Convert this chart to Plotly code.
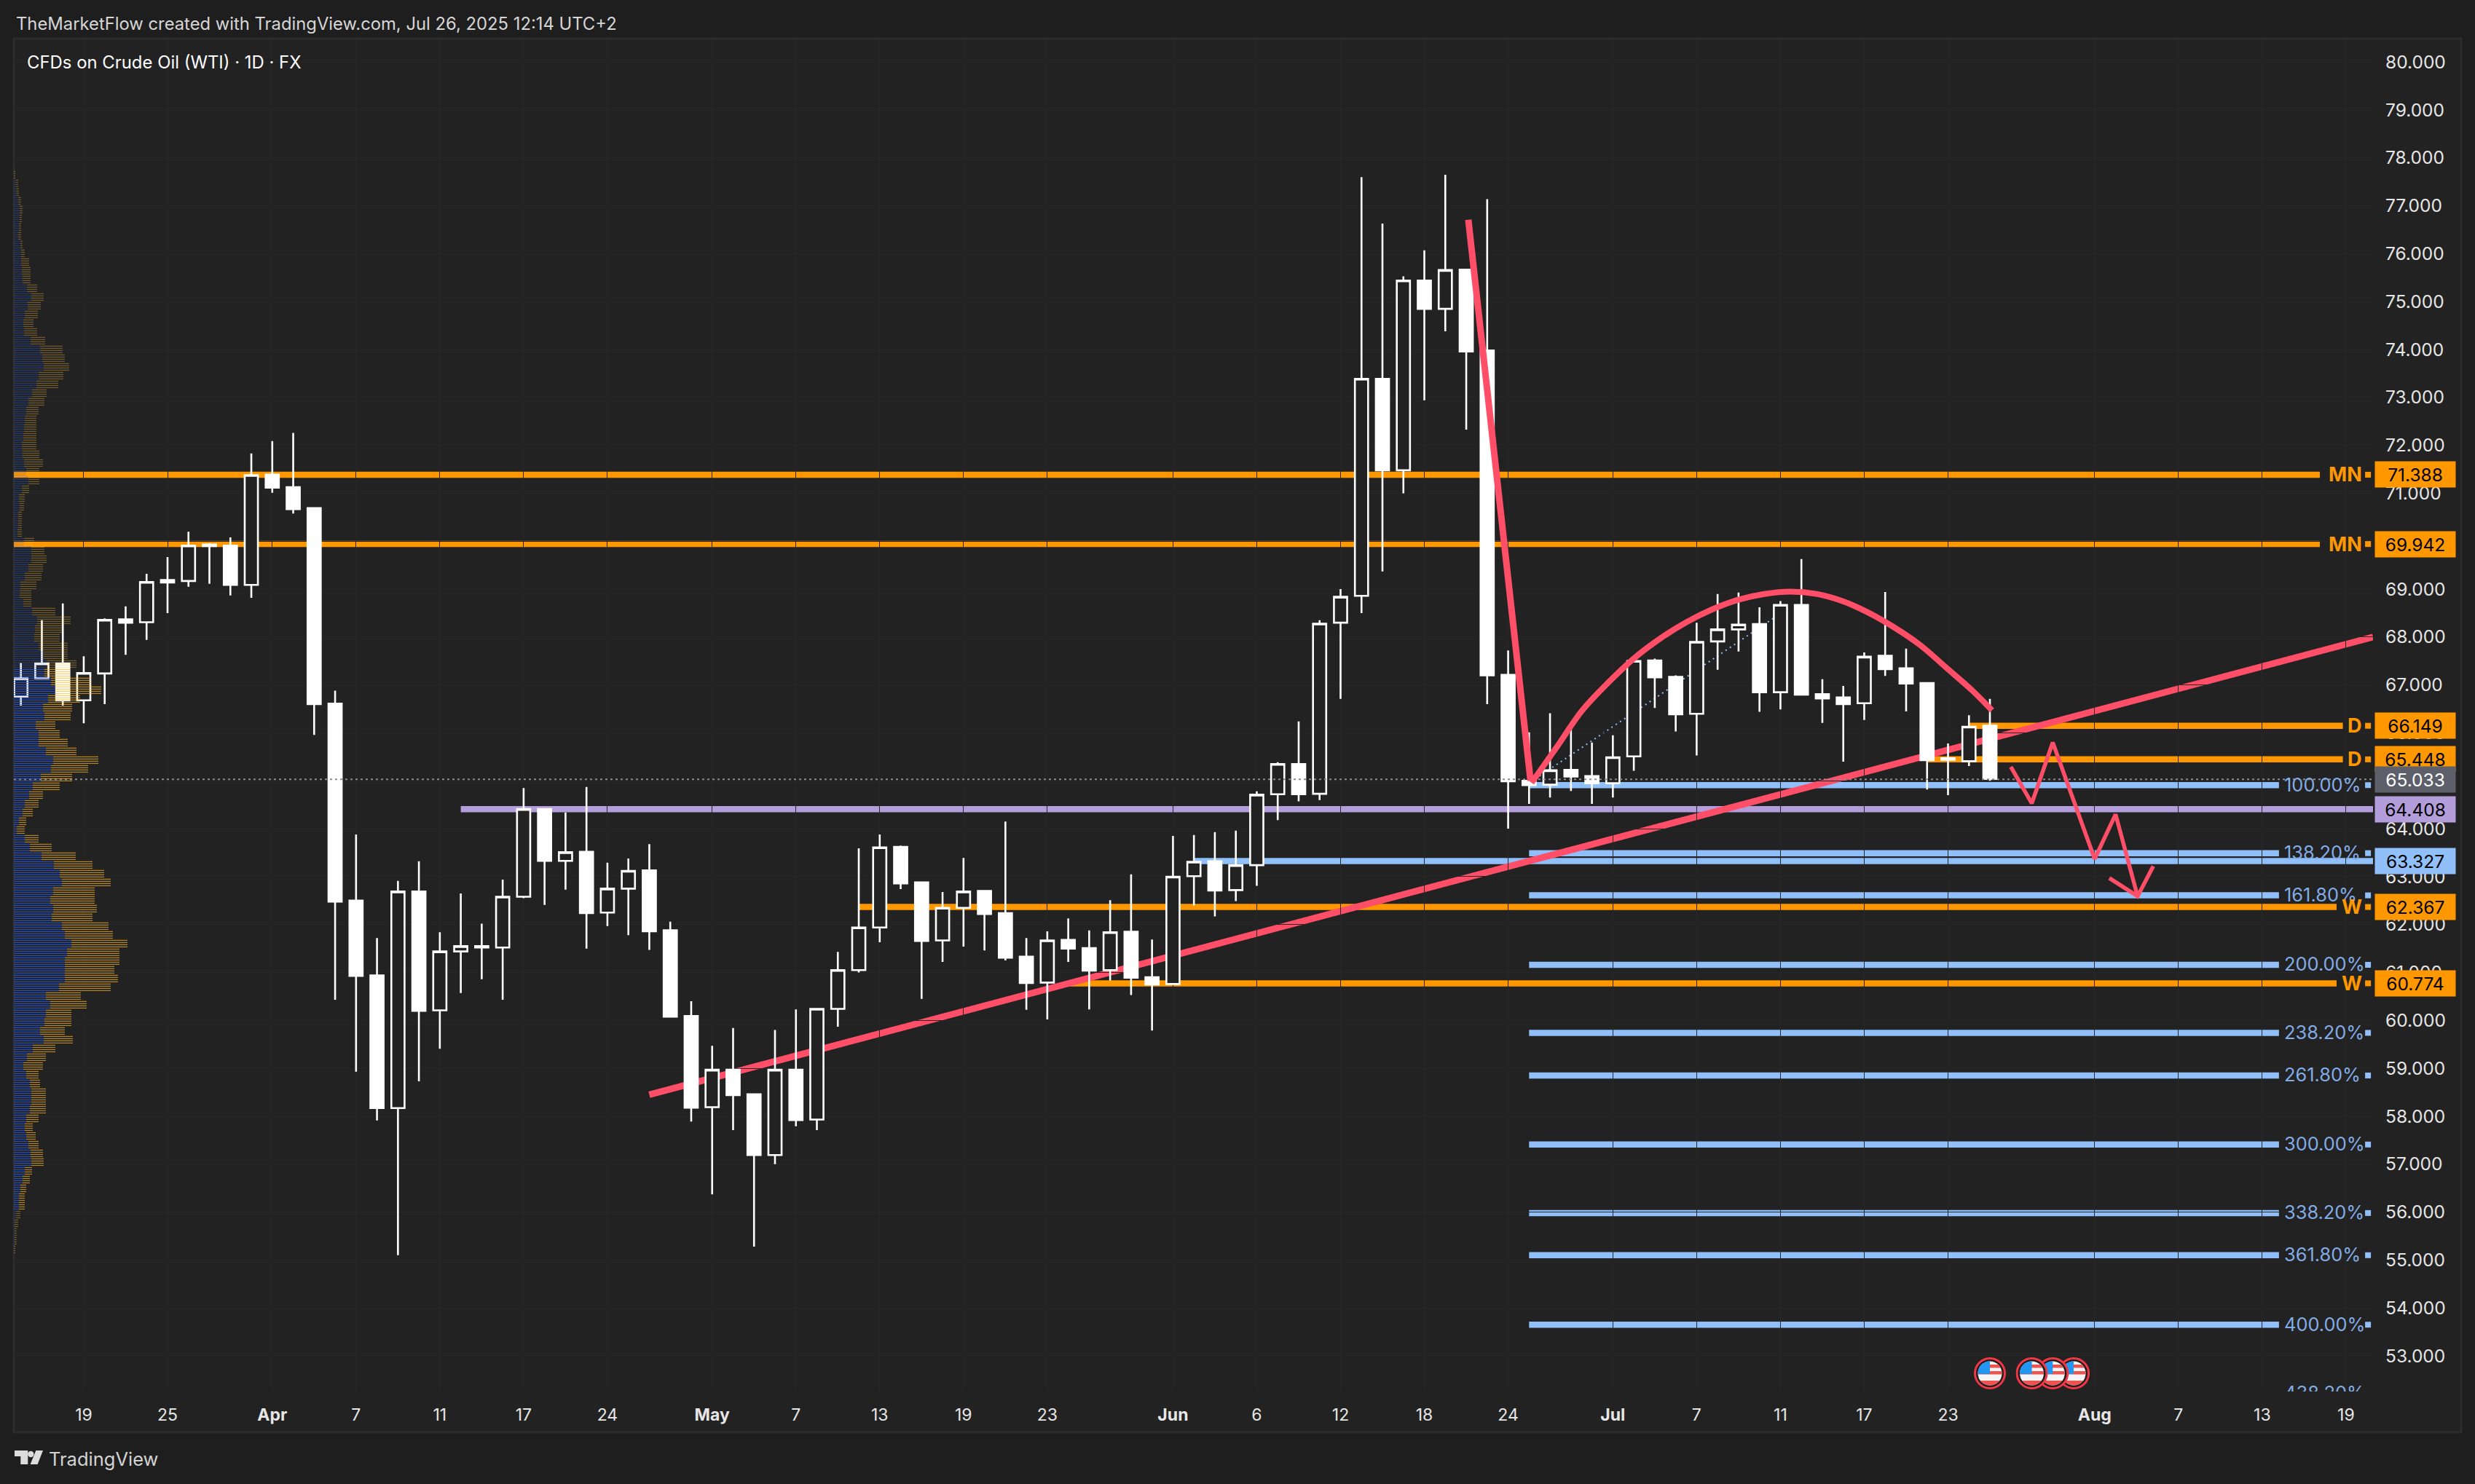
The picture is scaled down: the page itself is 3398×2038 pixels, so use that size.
import base64
import plotly.graph_objects as go

# ---------- data ----------
opens = [66.76,67.14,67.45,66.68,67.24,68.37,68.31,69.19,69.17,69.93,69.91,69.09,71.39,71.13,70.69,66.61,62.50,60.94,58.17,62.69,
         60.21,61.44,61.55,61.52,62.58,64.41,63.33,63.52,62.25,62.75,63.13,61.88,60.09,58.19,58.97,58.46,57.19,58.97,57.93,60.24,
         61.05,61.94,63.62,62.88,61.67,62.35,62.70,62.24,61.33,60.79,61.68,61.51,61.05,61.85,60.90,60.76,63.01,63.32,62.72,63.24,
         64.72,65.35,64.73,68.30,68.86,73.39,71.48,75.44,74.85,75.67,73.98,67.21,65.00,64.92,65.23,65.10,64.95,65.51,67.51,67.17,
         66.40,67.91,68.16,68.27,66.85,68.67,66.81,66.74,66.62,67.61,67.35,67.04,65.47,65.41,66.15]
highs = [67.46,68.35,68.70,67.60,68.39,68.64,69.32,69.67,70.20,69.96,70.08,71.83,72.09,72.26,70.70,66.88,63.88,61.72,62.91,63.32,
         61.84,62.65,62.02,62.94,64.85,64.41,64.34,64.87,63.29,63.38,63.68,62.06,60.40,59.47,59.84,58.46,59.80,60.23,60.26,61.43,
         63.59,63.88,63.65,62.89,62.68,63.39,62.70,64.15,61.72,61.86,62.13,61.88,62.51,63.05,61.69,63.85,63.87,63.93,63.96,64.78,
         65.39,66.24,68.35,69.00,77.60,76.63,75.53,76.07,77.65,75.67,77.14,67.72,66.01,66.41,66.07,65.80,65.95,67.55,67.55,67.20,
         68.30,68.90,68.93,68.62,68.75,69.63,67.12,66.98,67.68,68.94,67.76,67.04,65.78,66.37,66.71]
lows = [66.57,67.14,66.57,66.20,66.60,67.63,67.94,68.50,69.05,69.11,68.87,68.82,71.01,70.58,65.96,60.43,58.93,57.91,55.10,58.73,
        59.41,60.57,60.86,60.43,62.55,62.41,62.73,61.50,61.97,61.78,61.47,60.08,57.89,56.37,57.71,55.28,57.00,57.79,57.71,59.87,
        61.00,61.63,62.74,60.45,61.22,61.54,61.46,61.25,60.22,60.02,61.22,60.23,60.83,60.53,59.79,60.76,62.40,62.17,62.49,62.81,
        64.18,64.57,64.60,66.71,68.50,69.37,71.00,72.94,74.38,72.33,66.60,64.00,64.52,64.65,64.79,64.52,64.65,65.21,66.52,66.03,
        65.53,67.32,67.70,66.44,66.49,66.78,66.21,65.40,66.27,67.19,66.45,64.82,64.70,65.31,65.00]
closes = [67.14,67.45,66.68,67.25,68.36,68.30,69.15,69.14,69.91,69.90,69.09,71.38,71.12,70.67,66.60,62.48,60.93,58.17,62.69,60.20,
          61.44,61.55,61.52,62.58,64.41,63.33,63.51,62.24,62.75,63.12,61.86,60.08,58.18,58.97,58.44,57.19,58.97,57.92,60.24,61.05,
          61.94,63.61,62.86,61.66,62.35,62.69,62.22,61.31,60.78,61.67,61.50,61.04,61.84,60.89,60.75,63.00,63.31,62.71,63.24,64.71,
          65.35,64.72,68.28,68.84,73.39,71.48,75.44,74.85,75.66,73.96,67.20,64.99,64.91,65.22,65.09,64.95,65.49,67.50,67.16,66.39,
          67.90,68.16,68.26,66.85,68.67,66.80,66.72,66.60,67.59,67.33,67.03,65.43,65.44,66.13,65.04]
bar_index = list(range(len(opens)))

time_tick_index = [3,7,12,16,20,24,28,33,37,41,45,49,55,59,63,67,71,76,80,84,88,92,99,103,107,111]
time_tick_text = ["19","25","<b>Apr</b>","7","11","17","24","<b>May</b>","7","13","19","23","<b>Jun</b>","6","12","18","24",
                  "<b>Jul</b>","7","11","17","23","<b>Aug</b>","7","13","19"]
price_ticks = list(range(53, 81))

# orange key levels: label, price, first bar, last bar
key_levels = [("MN",71.388,-1,109.75),("MN",69.942,-1,109.75),("D",66.149,93,110.85),("D",65.448,91,110.85),
              ("W",62.367,40,110.55),("W",60.774,50,110.55)]
purple_level, purple_start = 64.408, 21
blue_level, blue_start = 63.327, 56
last_price = 65.033
fib_names = ["100.00%","138.20%","161.80%","200.00%","238.20%","261.80%","300.00%","338.20%","361.80%","400.00%","438.20%"]
fib_prices = [64.91,63.49,62.61,61.16,59.74,58.85,57.41,55.98,55.10,53.65,52.22]
fib_start, fib_end = 72, 107.8
fib_guide_x, fib_guide_y = [72.1,84.4], [64.98,68.61]

trend_x, trend_y = [30,112.29], [58.45,68.0]
fall_x, fall_y = [69.1,72.07], [76.71,65.0]
arc_x = [72.12,73.30,74.54,75.78,77.02,78.26,79.51,80.75,81.99,83.23,84.47,85.72,86.96,88.20,89.44,90.68,91.92,93.17,94.10]
arc_y = [64.96,65.69,66.47,67.05,67.56,67.97,68.31,68.58,68.78,68.90,68.95,68.90,68.75,68.51,68.20,67.83,67.36,66.88,66.47]
path_x = [95.0,96.0,97.0,99.0,100.0,101.05]
path_y = [65.29,64.53,65.80,63.37,64.30,62.59]
head_x = [99.7,101.05,101.8]
head_y = [62.97,62.59,63.22]
event_bars = [98,97,96,94]

# visible range profile: up and down volume widths per 12 px row, top to bottom
vp_blue = [0,3,3.5,6,8,8,7,6,9,10,10,11,12,18,24,19,15,13,14,23,36,39,
           41,34,31,25,20,17,15,14,13,11,12,14,17,20,11,7,8,6,6,5,14,24,24,20,15,9,8,13,25,32,29,28,34,40,45,42,51,57,47,40,42,30,34,34,44,54,51,37,26,21,
           15,12,7,4,15,22,38,55,63,66,54,50,54,52,66,70,79,73,70,70,70,62,44,50,44,42,36,41,26,18,13,17,22,24,24,22,17,15,17,20,23,24,15,12,9,7,7,3,1,1,1,0]
vp_gold = [2,6,7,10,12,11,10,10,12,15,21,23,23,32,41,37,33,27,32,43,67,70,
           76,68,61,45,42,34,31,31,31,31,35,40,35,35,21,15,14,11,11,11,28,42,45,40,38,31,24,24,57,78,67,63,74,74,86,77,106,120,91,80,78,57,63,74,86,116,102,80,63,40,
           34,26,17,15,34,52,85,108,124,133,111,111,114,108,130,136,156,145,145,138,143,133,92,100,79,79,70,81,57,44,40,34,36,44,44,44,34,26,30,34,40,41,25,22,17,15,15,9,6,4,4,2]

BG = "#222222"; PAGE = "#1e1e1e"; ORANGE = "#ff9800"; PURPLE = "#b39ddb"; BLUE = "#90bff9"; RED = "#ff4f68"
FONT = "Inter"
W, H = 3398, 2038
L_PX, R_PX, T_PX, B_PX = 19, 3258, 53, 1911
PW, PH = R_PX - L_PX, B_PX - T_PX
XR = [-0.337, 112.29]
YR = [52.255, 80.49]
def px(x): return (x - L_PX) / PW
def py(y): return (B_PX - y) / PH

fig = go.Figure()
fig.add_trace(go.Candlestick(x=bar_index, open=opens, high=highs, low=lows, close=closes,
    increasing=dict(line=dict(color="#ffffff", width=2.6), fillcolor=BG),
    decreasing=dict(line=dict(color="#ffffff", width=2.6), fillcolor="#ffffff"),
    whiskerwidth=0, showlegend=False, hoverinfo="skip"))

fig.add_trace(go.Scatter(x=XR, y=[last_price]*2, mode="lines", line=dict(color="#8a8d96", width=2, dash="3px,4px"), hoverinfo="skip"))
fig.add_trace(go.Scatter(x=fall_x, y=fall_y, mode="lines", line=dict(color=RED, width=9), hoverinfo="skip"))
fig.add_trace(go.Scatter(x=arc_x, y=arc_y, mode="lines", line=dict(color=RED, width=8, shape="spline"), hoverinfo="skip"))
fig.add_trace(go.Scatter(x=path_x, y=path_y, mode="lines", line=dict(color=RED, width=5.5), hoverinfo="skip"))
fig.add_trace(go.Scatter(x=head_x, y=head_y, mode="lines", line=dict(color=RED, width=5.5), hoverinfo="skip"))

# fib labels (clipped by the plot area like the last one in the reference)
fig.add_trace(go.Scatter(x=[108.05]*len(fib_prices), y=[p-0.03 for p in fib_prices], mode="text", text=fib_names, textposition="middle right",
    textfont=dict(family=FONT, size=25.4, color="#82ace6"), hoverinfo="skip"))
# little squares next to the scale
sq_y = fib_prices[:-1] + [k[1] for k in key_levels]
sq_c = [BLUE]*(len(fib_prices)-1) + [ORANGE]*len(key_levels)
fig.add_trace(go.Scatter(x=[112.05]*len(sq_y), y=sq_y, mode="markers", marker=dict(symbol="square", size=8, color=sq_c, line=dict(width=0)), hoverinfo="skip"))

# volume profile on an overlaying pixel-scaled axis
rows, colors_b, colors_g, wb, wg = [], [], [], [], []
for k, (b, g) in enumerate(zip(vp_blue, vp_gold)):
    bright = 57 <= k <= 118
    for j in range(4):
        y_full = 240 + 12*k + (j-1.5)*3
        rows.append(53 + (1862 - y_full)/65.8)
        wb.append(b); wg.append(g - b)
        colors_b.append("rgba(41,98,255,0.66)" if bright else "rgba(41,98,255,0.32)")
        colors_g.append("rgba(255,183,40,0.66)" if bright else "rgba(255,190,60,0.36)")
fig.add_trace(go.Bar(x=wb, y=rows, orientation="h", width=1.2/65.8, marker=dict(color=colors_b, line=dict(width=0)), xaxis="x2", hoverinfo="skip"))
fig.add_trace(go.Bar(x=wg, y=rows, base=wb, orientation="h", width=1.2/65.8, marker=dict(color=colors_g, line=dict(width=0)), xaxis="x2", hoverinfo="skip"))

shapes = []
shapes.append(dict(type="rect", xref="paper", yref="paper", x0=px(19), x1=px(3379), y0=py(1967), y1=py(53),
                   fillcolor=BG, line=dict(color="#2c2c2c", width=3), layer="below"))
def hline(level, x0, x1, color):
    shapes.append(dict(type="line", xref="x", yref="y", x0=x0, x1=x1, y0=level, y1=level, line=dict(color=color, width=8.5), layer="below"))
hline(purple_level, purple_start, XR[1], PURPLE)
hline(blue_level, blue_start, XR[1], BLUE)
for p in fib_prices[:-1]:
    hline(p, fib_start, fib_end, BLUE)
for _, p, x0, x1 in key_levels:
    hline(p, x0, x1, ORANGE)
shapes.append(dict(type="line", xref="x", yref="y", x0=fib_guide_x[0], x1=fib_guide_x[1], y0=fib_guide_y[0], y1=fib_guide_y[1],
                   line=dict(color=BLUE, width=2, dash="2px,5px"), layer="below"))
shapes.append(dict(type="line", xref="x", yref="y", x0=trend_x[0], x1=trend_x[1], y0=trend_y[0], y1=trend_y[1],
                   line=dict(color=RED, width=9), layer="below"))

ann = []
def tag(level, bg, fg):
    ann.append(dict(xref="paper", yref="y", x=px(3260), y=level, xanchor="left", yanchor="middle", text=f"{level:.3f}",
                    showarrow=False, bgcolor=bg, width=110, height=35, borderpad=0, align="center",
                    font=dict(family=FONT, size=24.5, color=fg)))
for name, p, _, _ in key_levels:
    tag(p, ORANGE, "#000000")
    ann.append(dict(xref="paper", yref="y", x=px(3245), y=p, xanchor="right", yanchor="middle", text=f"<b>{name}</b>",
                    showarrow=False, font=dict(family=FONT, size=27, color=ORANGE)))
tag(last_price, "#5d606b", "#ffffff")
tag(purple_level, PURPLE, "#000000")
tag(blue_level, BLUE, "#000000")
ann.append(dict(xref="paper", yref="paper", x=px(20), y=py(32), xanchor="left", yanchor="middle", showarrow=False,
                text="TheMarketFlow created with TradingView.com, Jul 26, 2025 12:14 UTC+2",
                font=dict(family=FONT, size=23.8, color="#d6d6d6")))
ann.append(dict(xref="paper", yref="paper", x=px(35), y=py(86), xanchor="left", yanchor="middle", showarrow=False,
                text="CFDs on Crude Oil (WTI) · 1D · FX", font=dict(family=FONT, size=23.9, color="#ffffff")))
ann.append(dict(xref="paper", yref="paper", x=px(65), y=py(2003), xanchor="left", yanchor="middle", showarrow=False,
                text="TradingView", font=dict(family=FONT, size=25.5, color="#d4d4d4")))

flag_svg = """<svg xmlns='http://www.w3.org/2000/svg' width='44' height='44' viewBox='0 0 44 44'>
<defs><clipPath id='c'><circle cx='22' cy='22' r='16.5'/></clipPath></defs>
<circle cx='22' cy='22' r='20.5' fill='#1e1e1e' stroke='#f23645' stroke-width='3'/>
<g clip-path='url(#c)'><rect x='0' y='0' width='44' height='44' fill='#f5f5f5'/>
<rect x='0' y='10' width='44' height='4.5' fill='#ef5350'/><rect x='0' y='19' width='44' height='4.5' fill='#ef5350'/>
<rect x='0' y='28' width='44' height='4.5' fill='#f5f5f5'/><rect x='0' y='32' width='44' height='8' fill='#ef5350'/>
<rect x='0' y='5' width='22' height='18' fill='#2196f3'/></g></svg>"""
flag_uri = "data:image/svg+xml;base64," + base64.b64encode(flag_svg.encode()).decode()
logo_svg = """<svg xmlns='http://www.w3.org/2000/svg' width='40' height='20' viewBox='0 0 40 20'>
<g fill='#dcdcdc'><polygon points='0,0 18.3,0 18.3,19 8.3,19 8.3,8 0,8'/><circle cx='22.3' cy='5' r='4.2'/>
<polygon points='39,0 31.6,19 21.6,19 29.3,0'/></g></svg>"""
logo_uri = "data:image/svg+xml;base64," + base64.b64encode(logo_svg.encode()).decode()
images = [dict(source=flag_uri, xref="x", yref="y", x=b, y=52.635, sizex=1.53, sizey=0.67, xanchor="center", yanchor="middle",
               sizing="contain", layer="above") for b in event_bars]
images.append(dict(source=logo_uri, xref="paper", yref="paper", x=px(20), y=py(1992), sizex=40/PW, sizey=20/PH,
                   xanchor="left", yanchor="top", sizing="contain", layer="above"))

fig.update_layout(
    width=W, height=H, margin=dict(l=L_PX, r=W-R_PX, t=T_PX, b=H-B_PX, pad=0), autosize=False,
    paper_bgcolor=PAGE, plot_bgcolor=BG, showlegend=False, barmode="overlay", boxgap=0.1,
    font=dict(family=FONT, color="#e6e6e6"),
    xaxis=dict(range=XR, tickvals=time_tick_index, ticktext=time_tick_text, ticks="", showline=False, zeroline=False,
               gridcolor="#272727", gridwidth=1, rangeslider=dict(visible=False), ticklabelstandoff=16,
               tickfont=dict(family=FONT, size=23, color="#e6e6e6"), fixedrange=True),
    xaxis2=dict(range=[0, PW], overlaying="x", anchor="y", visible=False, fixedrange=True),
    yaxis=dict(range=YR, side="right", tickvals=price_ticks, ticktext=[f"{p:.3f}" for p in price_ticks], ticks="", showline=False,
               zeroline=False, gridcolor="#272727", gridwidth=1, ticklabelstandoff=16,
               tickfont=dict(family=FONT, size=24.5, color="#e6e6e6"), fixedrange=True),
    shapes=shapes, annotations=ann, images=images,
)
fig.write_html("out.html", config=dict(displayModeBar=False),
               post_script="document.body.style.margin='0';document.body.style.background='#1e1e1e';document.documentElement.style.overflow='hidden';")
